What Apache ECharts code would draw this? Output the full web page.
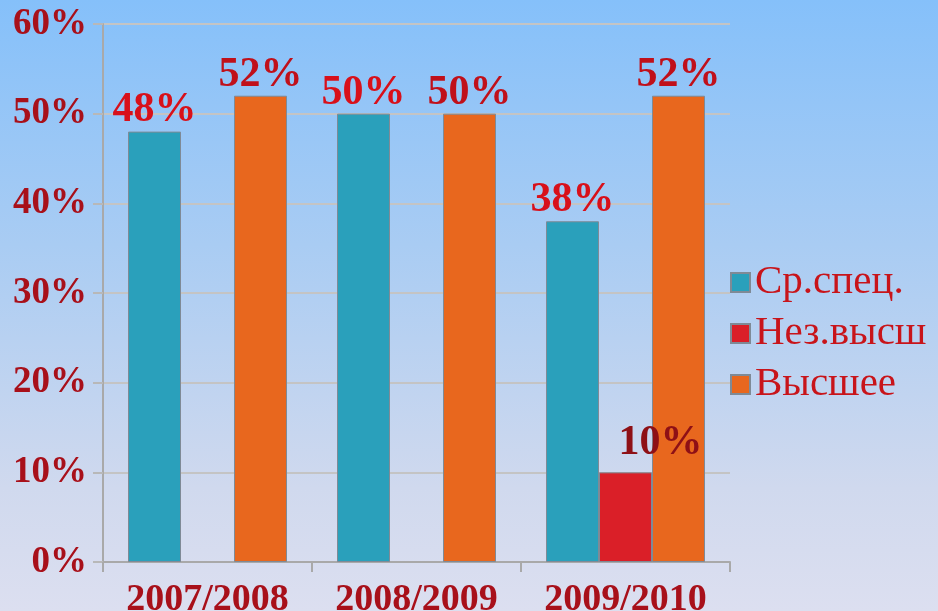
<!DOCTYPE html>
<html>
<head>
<meta charset="utf-8">
<script src="https://cdn.jsdelivr.net/npm/echarts@6/dist/echarts.min.js"></script>
<style>
  html, body { margin: 0; padding: 0; }
  #main {
    width: 938px;
    height: 611px;
    background: linear-gradient(180deg, #85c0fa 0%, #a9ccf3 40%, #d0d9ee 80%, #dcdff0 100%);
  }
</style>
</head>
<body>
<div id="main"></div>
<script>
// данные
var years = ['2007/2008', '2008/2009', '2009/2010'];
var srSpec = [48, 50, 38];
var nezVyssh = [null, null, 10];
var vysshee = [52, 50, 52];

var serif = '"Liberation Serif", "Times New Roman", serif';
var darkRed = '#a8101a';

var myChart = echarts.init(document.getElementById('main'));

function barLabel(color) {
    return {
        show: true,
        position: 'top',
        distance: 0,
        formatter: '{c}%',
        color: color,
        fontFamily: serif,
        fontWeight: 'bold',
        fontSize: 42
    };
}

var option = {
    backgroundColor: 'transparent',
    animation: false,
    grid: { left: 103, right: 208, top: 24, bottom: 49, outerBoundsMode: 'none', containLabel: false },
    legend: {
        orient: 'vertical',
        left: 730,
        top: 262,
        padding: 0,
        itemWidth: 19,
        itemHeight: 19,
        itemGap: 10,
        icon: 'rect',
        textStyle: { color: '#c8141a', fontFamily: serif, fontSize: 41 },
        data: ['Ср.спец.', 'Нез.высш', 'Высшее']
    },
    xAxis: {
        type: 'category',
        data: years,
        axisLine: { lineStyle: { color: '#a9a9a9', width: 2 } },
        axisTick: { show: true, length: 10, lineStyle: { color: '#a9a9a9', width: 2 } },
        axisLabel: {
            interval: 0,
            hideOverlap: false,
            color: darkRed,
            fontFamily: serif,
            fontWeight: 'bold',
            fontSize: 38,
            margin: 19
        }
    },
    yAxis: {
        type: 'value',
        min: 0,
        max: 60,
        interval: 10,
        axisLine: { show: true, lineStyle: { color: '#a9a9a9', width: 2 } },
        axisTick: { show: true, length: 10, lineStyle: { color: '#b8b8b8', width: 2 } },
        splitLine: { lineStyle: { color: '#c4c4c4', width: 2 } },
        axisLabel: {
            formatter: '{value}%',
            color: darkRed,
            fontFamily: serif,
            fontWeight: 'bold',
            fontSize: 37,
            margin: 16
        }
    },
    series: [
        {
            name: 'Ср.спец.',
            type: 'bar',
            data: srSpec,
            barWidth: 53,
            barGap: '0%',
            itemStyle: { color: '#2aa0bb', borderColor: '#7f8a96', borderWidth: 1 },
            label: barLabel('#d8101a')
        },
        {
            name: 'Нез.высш',
            type: 'bar',
            data: nezVyssh,
            barWidth: 53,
            barGap: '0%',
            itemStyle: { color: '#da1f28', borderColor: '#7f8a96', borderWidth: 1 },
            label: Object.assign(barLabel('#8e1016'), { offset: [35, -8] })
        },
        {
            name: 'Высшее',
            type: 'bar',
            data: vysshee,
            barWidth: 53,
            barGap: '0%',
            itemStyle: { color: '#e8671e', borderColor: '#7f8a96', borderWidth: 1 },
            label: barLabel('#c0101a')
        }
    ]
};

myChart.setOption(option);
</script>
</body>
</html>
